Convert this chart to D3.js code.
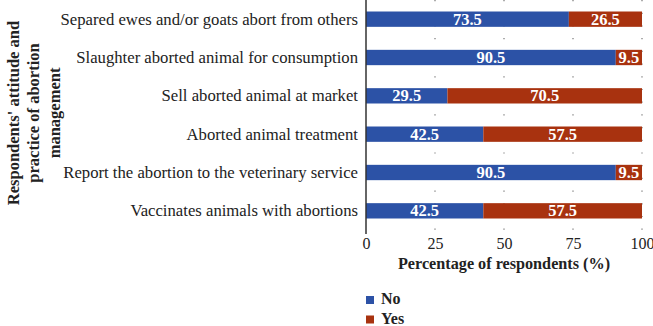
<!DOCTYPE html>
<html>
<head>
<meta charset="utf-8">
<script src="https://cdn.jsdelivr.net/npm/d3@7"></script>
<style>
  body { margin: 0; background: #fff; }
  text { font-family: "Liberation Serif", "DejaVu Serif", serif; }
</style>
</head>
<body>
<script>
// chart data
const categories = [
  "Separed ewes and/or goats abort from others",
  "Slaughter aborted animal for consumption",
  "Sell aborted animal at market",
  "Aborted animal treatment",
  "Report the abortion to the veterinary service",
  "Vaccinates animals with abortions"
];
const noValues = [73.5, 90.5, 29.5, 42.5, 90.5, 42.5];
const yesValues = [26.5, 9.5, 70.5, 57.5, 9.5, 57.5];
const xTicks = [0, 25, 50, 75, 100];
const seriesNames = ["No", "Yes"];
const colors = ["#2c52a6", "#a8320f"];

const width = 653, height = 326;
const margin = {top: 0, right: 11, bottom: 96, left: 366};
const plotW = width - margin.left - margin.right;
const plotH = height - margin.top - margin.bottom;

const svg = d3.select('body').append('svg')
  .attr('width', width)
  .attr('height', height);

const g = svg.append('g')
  .attr('transform', `translate(${margin.left}, ${margin.top})`);

const x = d3.scaleLinear().domain([0, 100]).range([0, plotW]);
const y = d3.scaleBand().domain(categories).range([0, plotH])
  .paddingInner(0.6).paddingOuter(0.3);

// dotted gridlines
g.selectAll('line.grid')
  .data(xTicks.slice(1))
  .enter().append('line')
  .attr('class', 'grid')
  .attr('x1', d => x(d)).attr('x2', d => x(d))
  .attr('y1', 0).attr('y2', plotH)
  .attr('stroke', '#777')
  .attr('stroke-width', 1.2)
  .attr('stroke-dasharray', '1.2,11.5');

// stacked bars
const rows = categories.map((c, i) => ({cat: c, vals: [noValues[i], yesValues[i]]}));
rows.forEach(r => {
  let start = 0;
  r.vals.forEach((v, k) => {
    g.append('rect')
      .attr('x', x(start))
      .attr('y', y(r.cat))
      .attr('width', x(start + v) - x(start))
      .attr('height', y.bandwidth())
      .attr('fill', colors[k]);
    g.append('text')
      .attr('x', x(start + v / 2))
      .attr('y', y(r.cat) + y.bandwidth() / 2 + 5.5)
      .attr('text-anchor', 'middle')
      .attr('fill', '#fff')
      .attr('font-weight', 'bold')
      .attr('font-size', '16.5px')
      .text(v);
    start += v;
  });
});

// axes
const xAxis = d3.axisBottom(x).tickValues(xTicks).tickSize(0).tickPadding(8);
const xg = g.append('g')
  .attr('transform', `translate(0, ${plotH})`)
  .call(xAxis);
xg.select('.domain').remove();
xg.selectAll('text').attr('font-size', '16px').attr('fill', '#222')
  .attr('font-family', '"Liberation Serif", serif');

g.append('line')
  .attr('x1', 0).attr('x2', 0)
  .attr('y1', 0).attr('y2', plotH + 4)
  .attr('stroke', '#333').attr('stroke-width', 1.5);

const yAxis = d3.axisLeft(y).tickSize(0).tickPadding(8);
const yg = g.append('g').call(yAxis);
yg.select('.domain').remove();
yg.selectAll('text').attr('font-size', '16.7px').attr('fill', '#222')
  .attr('font-family', '"Liberation Serif", serif');

// axis titles
svg.append('text')
  .attr('x', margin.left + plotW / 2)
  .attr('y', 269)
  .attr('text-anchor', 'middle')
  .attr('font-weight', 'bold')
  .attr('font-size', '16.2px')
  .attr('fill', '#222')
  .text('Percentage of respondents (%)');

const titleLines = ["Respondents' attitude and", "practice of abortion", "management"];
svg.append('g')
  .attr('transform', 'translate(18.5, 113) rotate(-90)')
  .selectAll('text')
  .data(titleLines)
  .enter().append('text')
  .attr('x', 0)
  .attr('y', (d, i) => i * 20.5)
  .attr('text-anchor', 'middle')
  .attr('font-weight', 'bold')
  .attr('font-size', '16.5px')
  .attr('fill', '#222')
  .text(d => d);

// legend
const legend = svg.append('g').attr('transform', 'translate(366, 296)');
seriesNames.forEach((s, i) => {
  legend.append('rect')
    .attr('x', 0).attr('y', i * 19.5)
    .attr('width', 8).attr('height', 8)
    .attr('fill', colors[i]);
  legend.append('text')
    .attr('x', 15).attr('y', i * 19.5 + 8)
    .attr('font-weight', 'bold')
    .attr('font-size', '16px')
    .attr('fill', '#222')
    .text(s);
});
</script>
</body>
</html>
